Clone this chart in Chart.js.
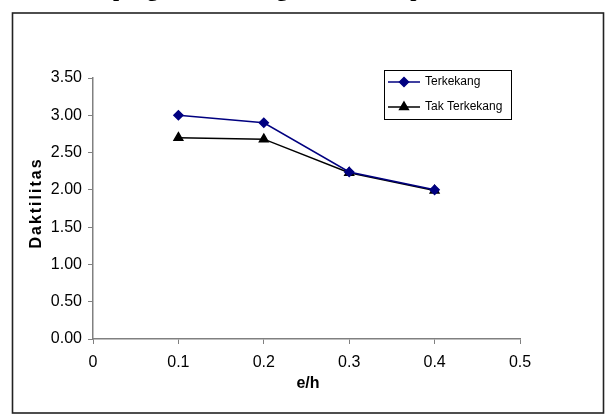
<!DOCTYPE html>
<html>
<head>
<meta charset="utf-8">
<script src="https://cdn.jsdelivr.net/npm/chart.js@4.4.0/dist/chart.umd.min.js"></script>
<style>
  body { margin: 0; background: #fff; }
  canvas { display: block; }
</style>
</head>
<body>
<canvas id="daktilitasChart" width="611" height="415"></canvas>
<script>
// data
const eh = [0.1, 0.2, 0.3, 0.4];
const terkekang = [3.00, 2.90, 2.24, 2.00];
const takTerkekang = [2.70, 2.68, 2.23, 1.99];
const seriesNames = ['Terkekang', 'Tak Terkekang'];
const captionText = 'Grafik pengaruh e/h dengan daktilitas pada kolom';
const xTitle = 'e/h';
const yTitle = 'Daktilitas';

const toPoints = (ys) => eh.map((x, i) => ({ x: x, y: ys[i] }));

// frame, cut caption, axis titles and the boxed legend
const framePlugin = {
    id: 'frame',
    beforeDraw(chart) {
        const ctx = chart.ctx;
        ctx.save();
        ctx.fillStyle = '#fff';
        ctx.fillRect(0, 0, chart.width, chart.height);
        // caption of the page, only the descenders show at the top edge
        ctx.fillStyle = '#000';
        ctx.font = 'bold 22px "Liberation Serif", "Times New Roman", serif';
        ctx.textBaseline = 'alphabetic';
        ctx.textAlign = 'left';
        ctx.fillText(captionText, 44, -4);
        // outer border
        ctx.strokeStyle = '#222';
        ctx.lineWidth = 1.6;
        ctx.strokeRect(12.5, 13, 591, 400);
        ctx.restore();
    },
    afterDraw(chart) {
        const ctx = chart.ctx;
        ctx.save();
        ctx.fillStyle = '#000';
        ctx.font = 'bold 16px "Liberation Sans", Arial, sans-serif';
        ctx.textAlign = 'center';
        ctx.textBaseline = 'middle';
        ctx.fillText(xTitle, 308, 384);

        ctx.translate(37, 203);
        ctx.rotate(-Math.PI / 2);
        ctx.letterSpacing = '2px';
        ctx.fillText(yTitle, 0, 0);
        ctx.restore();

        // legend
        ctx.save();
        const lx = 384.5, ly = 70.5, lw = 127, lh = 49;
        ctx.fillStyle = '#fff';
        ctx.fillRect(lx, ly, lw, lh);
        ctx.strokeStyle = '#000';
        ctx.lineWidth = 1;
        ctx.strokeRect(lx, ly, lw, lh);
        ctx.font = '12px "Liberation Sans", Arial, sans-serif';
        ctx.textBaseline = 'middle';
        ctx.textAlign = 'left';
        chart.data.datasets.forEach((ds, i) => {
            const y = 82 + i * 25;
            ctx.strokeStyle = ds.borderColor;
            ctx.lineWidth = 1.5;
            ctx.beginPath();
            ctx.moveTo(388, y);
            ctx.lineTo(420, y);
            ctx.stroke();
            Chart.helpers.drawPoint(ctx, {
                pointStyle: ds.pointStyle,
                radius: ds.pointRadius,
                borderWidth: 1
            }, 404, y);
            ctx.fillStyle = ds.pointBackgroundColor;
            ctx.strokeStyle = ds.pointBorderColor;
            ctx.fill();
            ctx.fillStyle = '#000';
            ctx.fillText(seriesNames[i], 425, y);
        });
        ctx.restore();
    }
};

new Chart(document.getElementById('daktilitasChart'), {
    type: 'scatter',
    data: {
        datasets: [
            {
                label: seriesNames[0],
                data: toPoints(terkekang),
                showLine: true,
                borderColor: '#000080',
                borderWidth: 1.5,
                pointStyle: 'rectRot',
                pointRadius: 4.5,
                pointBackgroundColor: '#000080',
                pointBorderColor: '#000080'
            },
            {
                label: seriesNames[1],
                data: toPoints(takTerkekang),
                showLine: true,
                borderColor: '#000',
                borderWidth: 1.5,
                pointStyle: 'triangle',
                pointRadius: 5,
                pointBackgroundColor: '#000',
                pointBorderColor: '#000'
            }
        ]
    },
    options: {
        responsive: false,
        animation: false,
        layout: { padding: { left: 0, right: 91, top: 78, bottom: 0 } },
        plugins: {
            legend: { display: false },
            tooltip: { enabled: false }
        },
        scales: {
            x: {
                type: 'linear',
                min: 0,
                max: 0.5,
                afterFit: (s) => { s.height = 76; },
                ticks: {
                    stepSize: 0.1,
                    color: '#000',
                    padding: 9,
                    maxRotation: 0,
                    font: { size: 16, family: '"Liberation Sans", Arial, sans-serif' },
                    callback: (v) => v === 0 ? '0' : v.toFixed(1)
                },
                grid: { drawOnChartArea: false, tickLength: 5, color: '#808080' },
                border: { color: '#808080', width: 1.5 }
            },
            y: {
                min: 0,
                max: 3.5,
                afterFit: (s) => { s.width = 93; },
                ticks: {
                    stepSize: 0.5,
                    color: '#000',
                    padding: 6,
                    font: { size: 16, family: '"Liberation Sans", Arial, sans-serif' },
                    callback: (v) => v.toFixed(2)
                },
                grid: { drawOnChartArea: false, tickLength: 5, color: '#808080' },
                border: { color: '#808080', width: 1.5 }
            }
        }
    },
    plugins: [framePlugin]
});
</script>
</body>
</html>
